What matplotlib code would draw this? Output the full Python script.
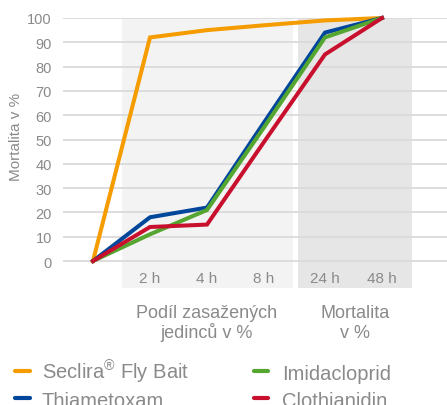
import matplotlib
matplotlib.use("Agg")
import matplotlib.pyplot as plt
from matplotlib.lines import Line2D

# ---- data ----
time_labels = ["", "2 h", "4 h", "8 h", "24 h", "48 h"]
seclira = [0, 92, 95, 97, 99, 100]
thiametoxam = [0, 18, 22, 57, 94, 100]
imidacloprid = [0, 11, 21, 55, 92, 100]
clothianidin = [0, 14, 15, 49, 85, 100]
y_ticks = [0, 10, 20, 30, 40, 50, 60, 70, 80, 90, 100]
series_names = ["Seclira$^{®}$ Fly Bait", "Thiametoxam", "Imidacloprid", "Clothianidin"]
group_labels = [["Podíl zasažených", "jedinců v %"], ["Mortalita", "v %"]]

# ---- layout / style ----
x_pos = [0, 1, 2, 3, 4.07, 5.07]
colors = ["#f59c00", "#00469b", "#55a630", "#c8102e"]
gray_txt = "#8a8a8a"

plt.rcParams['font.family'] = ['Liberation Sans', 'DejaVu Sans']
plt.rcParams['mathtext.fontset'] = 'custom'
plt.rcParams['mathtext.rm'] = 'Liberation Sans'

W, H = 447, 406
fig = plt.figure(figsize=(W / 100, H / 100), dpi=100)
ax = fig.add_axes([63 / W, 1 - 289 / H, (W - 63) / W, (289 - 19) / H])
ax.set_xlim(-30 / 57, 354 / 57)
ax.set_ylim(-11.1, 100)

# background bands
ax.axvspan(0.509, 3.51, ymin=0, ymax=1, color="#f3f3f3", lw=0, zorder=0)
ax.axvspan(3.60, 5.60, ymin=0, ymax=1, color="#e6e6e6", lw=0, zorder=0)

# gridlines
for yv in y_ticks:
    ax.axhline(yv, color="#dadada", lw=1.3, zorder=1)

series = [seclira, thiametoxam, imidacloprid, clothianidin]
lines = []
for vals, c, name in zip(series, colors, series_names):
    ln, = ax.plot(x_pos, vals, color=c, lw=2.9, solid_joinstyle='miter', label=name,
                  zorder=3, clip_on=False)
    lines.append(ln)

for s in ax.spines.values():
    s.set_visible(False)
ax.set_xticks([])
ax.set_yticks(y_ticks)
ax.tick_params(axis='y', length=0, pad=8, labelsize=10.5, labelcolor=gray_txt)

# x tick labels inside band row
for xp, lab in zip(x_pos, time_labels):
    if lab:
        ax.text(xp, -8.5, lab, ha='center', va='baseline', fontsize=11, color=gray_txt)

# group labels
fig.text(207 / W, 1 - 318 / H, group_labels[0][0], ha='center', va='baseline', fontsize=13, color=gray_txt)
fig.text(207 / W, 1 - 338 / H, group_labels[0][1], ha='center', va='baseline', fontsize=13, color=gray_txt)
fig.text(355 / W, 1 - 318 / H, group_labels[1][0], ha='center', va='baseline', fontsize=13, color=gray_txt)
fig.text(355 / W, 1 - 338 / H, group_labels[1][1], ha='center', va='baseline', fontsize=13, color=gray_txt)

# y label
fig.text(16 / W, 1 - 137 / H, "Mortalita v %", rotation=90, ha='center', va='center',
         fontsize=11, color=gray_txt)

# legend (2 columns, column-wise order), drawn from the plotted lines
col_handle_x = [(15, 30), (254, 268)]
col_text_x = [42, 282]
row_handle_y = [371.5, 398.5]
row_base_y = [380, 407]
for i, ln in enumerate(lines):
    col, row = divmod(i, 2)
    hx0, hx1 = col_handle_x[col]
    hy = 1 - row_handle_y[row] / H
    fig.add_artist(Line2D([hx0 / W, hx1 / W], [hy, hy], transform=fig.transFigure,
                          color=ln.get_color(), lw=3.0, solid_capstyle='round'))
    fig.text(col_text_x[col] / W, 1 - row_base_y[row] / H, ln.get_label(),
             ha='left', va='baseline', fontsize=14.5, color=gray_txt)

fig.savefig("out.png", dpi=100)
